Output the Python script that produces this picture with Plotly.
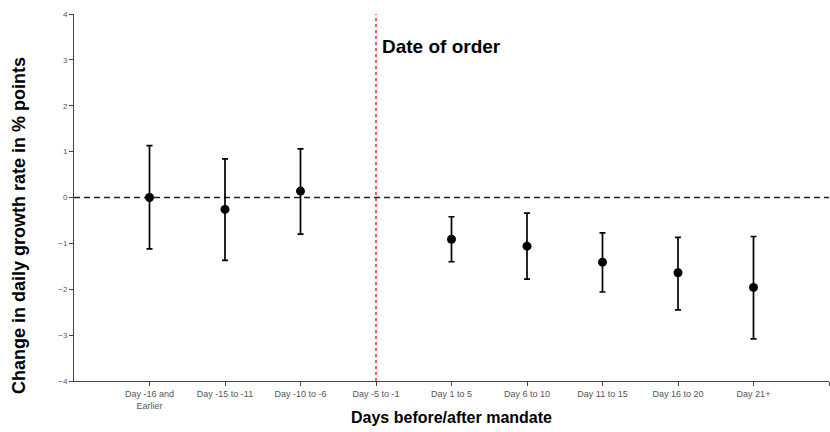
import plotly.graph_objects as go

categories = ["Day -16 and<br>Earlier", "Day -15 to -11", "Day -10 to -6", "Day -5 to -1",
              "Day 1 to 5", "Day 6 to 10", "Day 11 to 15", "Day 16 to 20", "Day 21+"]
positions = [1, 2, 3, 5, 6, 7, 8, 9]
estimates = [0.0, -0.26, 0.14, -0.91, -1.06, -1.41, -1.64, -1.96]
upper = [1.13, 0.84, 1.06, -0.42, -0.34, -0.77, -0.87, -0.85]
lower = [-1.12, -1.37, -0.80, -1.40, -1.78, -2.06, -2.45, -3.08]
order_position = 4
y_ticks = [-4, -3, -2, -1, 0, 1, 2, 3, 4]

err_plus = [u - e for u, e in zip(upper, estimates)]
err_minus = [e - l for e, l in zip(estimates, lower)]

title_font = "Liberation Sans, Arial"
tick_font = "Liberation Sans, Arial"

fig = go.Figure()
fig.add_trace(go.Scatter(
    x=positions, y=estimates, mode="markers",
    marker=dict(color="black", size=9),
    error_y=dict(type="data", symmetric=False, array=err_plus, arrayminus=err_minus,
                 color="black", thickness=1.7, width=3),
    showlegend=False, cliponaxis=False,
))

fig.add_shape(type="line", xref="x", yref="y", x0=0, x1=10, y0=0, y1=0,
              line=dict(color="#222222", width=1.6, dash="6px,4px"), layer="below")
fig.add_shape(type="line", xref="x", yref="y", x0=order_position, x1=order_position, y0=-4, y1=4,
              line=dict(color="red", width=1.3, dash="dot"), layer="below")

fig.add_annotation(x=order_position, y=3.3, xref="x", yref="y", text="<b>Date of order</b>",
                   showarrow=False, xanchor="left", xshift=4,
                   font=dict(family=title_font, size=19, color="black"))

plot_h = 432 - 14 - 51
plot_w = 830 - 74 - 1
fig.add_annotation(x=(19 - 74) / plot_w, y=(432 - 51 - 226) / plot_h, xref="paper", yref="paper",
                   text="<b>Change in daily growth rate in % points</b>",
                   showarrow=False, textangle=-90, xanchor="center", yanchor="middle",
                   font=dict(family=title_font, size=18, color="black"))

fig.update_layout(
    width=830, height=432,
    margin=dict(l=74, r=1, t=14, b=51),
    paper_bgcolor="white", plot_bgcolor="white",
    xaxis=dict(range=[0, 10], tickvals=list(range(1, 11)), ticktext=categories + [""],
               showgrid=False, zeroline=False, showline=True, linecolor="#444444", linewidth=1,
               ticks="outside", ticklen=4, tickcolor="#444444", automargin=False,
               tickfont=dict(family=tick_font, size=9, color="#555555"),
               title=dict(text="<b>Days before/after mandate</b>", standoff=2,
                          font=dict(family=title_font, size=16, color="black"))),
    yaxis=dict(range=[-4, 4], tickvals=y_ticks, showgrid=False, zeroline=False,
               showline=True, linecolor="#444444", linewidth=1, automargin=False,
               ticks="outside", ticklen=4, tickcolor="#444444",
               tickfont=dict(family=tick_font, size=8, color="#555555")),
)

fig.write_html("out.html", post_script="document.body.style.margin='0';",
               config={"displayModeBar": False})
